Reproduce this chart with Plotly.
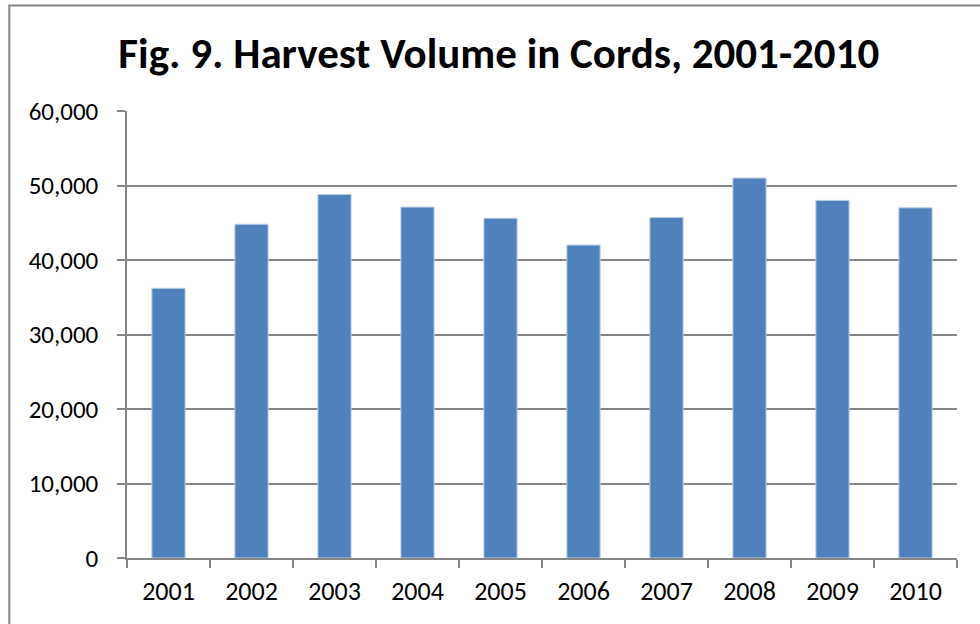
import plotly.graph_objects as go

# Annual harvest volume (cords)
years = ["2001", "2002", "2003", "2004", "2005", "2006", "2007", "2008", "2009", "2010"]
cords = [36200, 44800, 48800, 47100, 45600, 42000, 45700, 51000, 48000, 47000]

y_ticks = [0, 10000, 20000, 30000, 40000, 50000, 60000]

W, H = 980, 624
L, R, T, B = 126.7, 23.3, 110.7, 65.7
pw, ph = W - L - R, H - T - B

grey = "#868686"
font_family = "Carlito, Lato, 'Liberation Sans', sans-serif"

fig = go.Figure(
    go.Bar(
        x=years,
        y=cords,
        marker=dict(color="#4F81BD", line=dict(color="#B9CDE5", width=1)),
        hoverinfo="x+y",
    )
)

# outer chart frame (top and left edges visible)
frame_x0 = (9 - L) / pw
frame_y1 = 1 + (T - 5) / ph

fig.update_layout(
    width=W,
    height=H,
    margin=dict(l=L, r=R, t=T, b=B),
    paper_bgcolor="white",
    plot_bgcolor="white",
    bargap=0.6,
    showlegend=False,
    font=dict(family=font_family, color="black"),
    title=dict(
        text="<b>Fig. 9. Harvest Volume in Cords, 2001-2010</b>",
        font=dict(size=43, family=font_family, color="black"),
        x=0.509,
        xanchor="center",
        xref="container",
        y=1 - 53 / H,
        yanchor="middle",
        yref="container",
    ),
    xaxis=dict(
        type="category",
        tickson="boundaries",
        ticks="outside",
        ticklen=8,
        tickwidth=1.5,
        tickcolor=grey,
        showline=True,
        linecolor=grey,
        linewidth=1.5,
        showgrid=False,
        tickfont=dict(size=26, color="black"),
        ticklabelstandoff=9,
    ),
    yaxis=dict(
        range=[0, 60000],
        tickvals=y_ticks,
        tickformat=",",
        ticks="outside",
        ticklen=8,
        tickwidth=1.5,
        tickcolor=grey,
        showline=True,
        linecolor=grey,
        linewidth=1.5,
        showgrid=True,
        gridcolor=grey,
        gridwidth=1.5,
        zeroline=False,
        tickfont=dict(size=25, color="black"),
        ticklabelstandoff=14,
    ),
    shapes=[
        dict(
            type="rect",
            xref="paper",
            yref="paper",
            x0=frame_x0,
            x1=1.2,
            y0=-0.3,
            y1=frame_y1,
            line=dict(color=grey, width=2),
            layer="below",
        )
    ],
)

fig.write_html("out.html")
